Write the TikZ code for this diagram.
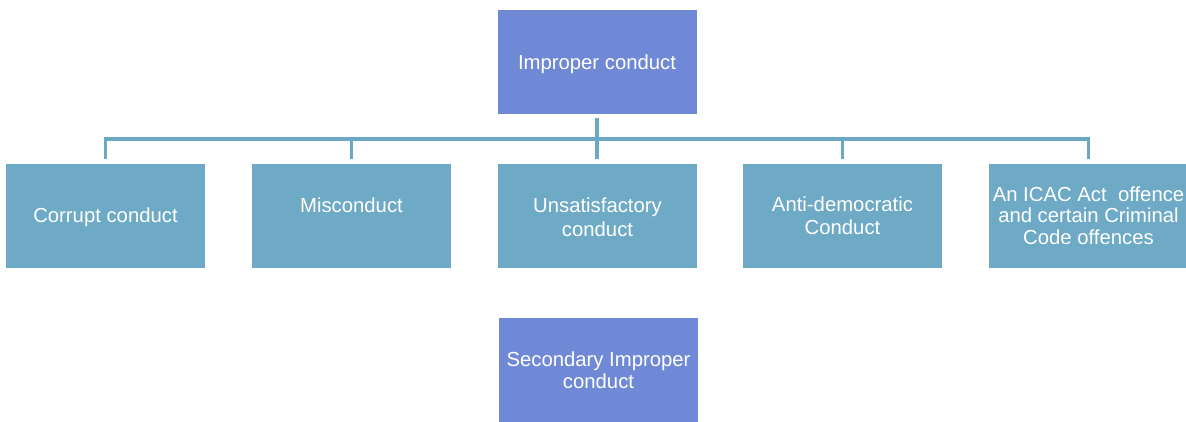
\documentclass[tikz,border=0pt]{standalone}
\usepackage{fontspec}
\setmainfont{Liberation Sans}
\usepackage{xcolor}
\usetikzlibrary{calc,
	positioning}
\definecolor{headblue}{RGB}{111,137,214}
\definecolor{catblue}{RGB}{110,170,197}
\definecolor{linkblue}{RGB}{106,168,196}
\tikzstyle{box}=[minimum width=199pt, minimum height=104pt, inner sep=0,
		align=center, text=white, text depth=0pt,
		font=\fontsize{20.3}{21.5}\selectfont]
\tikzstyle{head}=[box, fill=headblue]
\tikzstyle{cat}=[box, fill=catblue]
\tikzstyle{link}=[draw=linkblue, line width=3.5pt]

\begin{document}
\begin{tikzpicture}[x=1pt, y=-1pt]
        \useasboundingbox (0,0) rectangle (1186,421);
        \node[head] (imp) at (597,62) {Improper conduct};
        \node[cat] (cor) at (105.5,215.5) {Corrupt conduct};
        \node[cat] (mis) at (351.5,215.5) {Misconduct\\~};
        \node[cat, text height=42pt, font=\fontsize{20.3}{24}\selectfont] (uns) at (597.5,215.5) {Unsatisfactory\\conduct};
        \node[cat, font=\fontsize{20.3}{23}\selectfont] (ant) at (842.5,215.5) {Anti-democratic\\Conduct};
        \node[cat] (ica) at (1088.5,215.5) {An ICAC Act\ \ offence\\and certain Criminal\\Code offences};
        \node[head] (sec) at (598.5,370) {Secondary Improper\\conduct};
        \coordinate (bus) at (597,139);
        \draw[link] ([yshift=4pt]cor.north) |- (bus) -| ([yshift=4pt]ica.north);
        \draw[link] ([yshift=-4pt]imp.south) -- ([yshift=4pt]imp.south |- uns.north);
        \draw[link] ([yshift=4pt]mis.north) -- (mis.north |- bus);
        \draw[link] ([yshift=4pt]ant.north) -- (ant.north |- bus);
    \end{tikzpicture}
\end{document}
